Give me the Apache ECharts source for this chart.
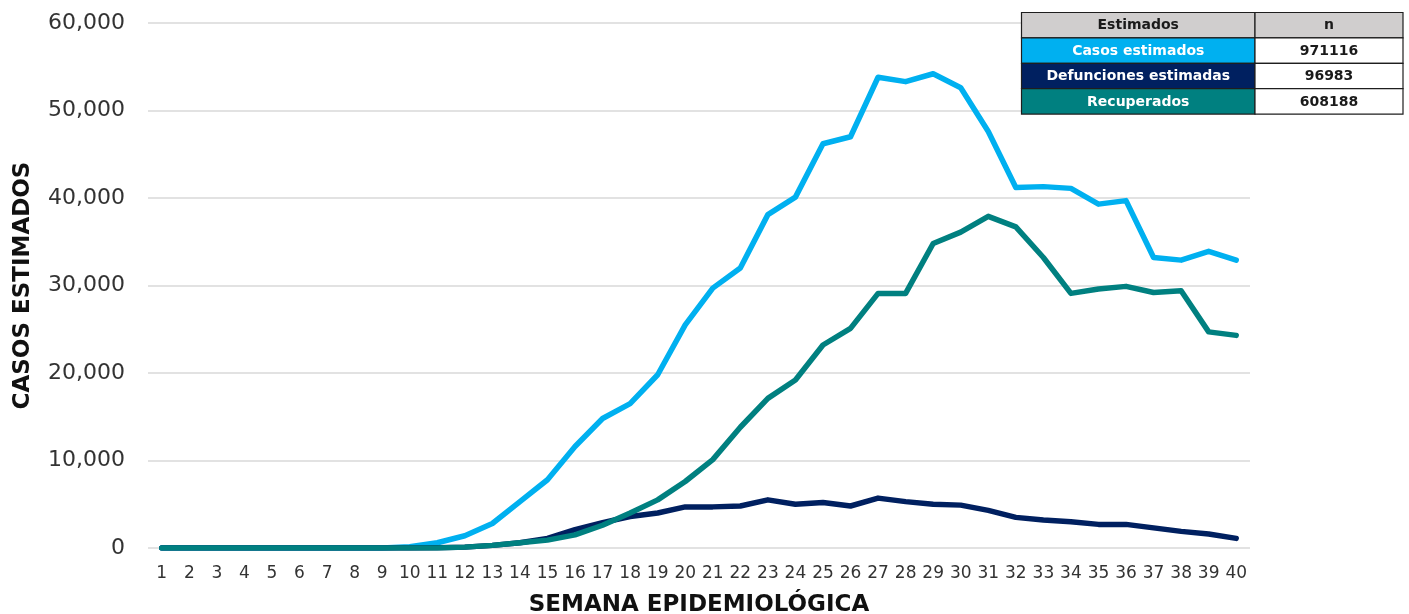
<!DOCTYPE html>
<html>
<head>
<meta charset="utf-8">
<script src="https://cdn.jsdelivr.net/npm/echarts@6/dist/echarts.min.js"></script>
<style>
html,body{margin:0;padding:0;background:#fff;overflow:hidden;}
#chart{width:1409px;height:614px;}
</style>
</head>
<body>
<div id="chart"></div>
<script>
const weeks = ["1","2","3","4","5","6","7","8","9","10","11","12","13","14","15","16","17","18","19","20","21","22","23","24","25","26","27","28","29","30","31","32","33","34","35","36","37","38","39","40"];
const casosEstimados = [0,0,0,0,0,0,0,0,0,150,600,1400,2800,5300,7800,11600,14800,16500,19800,25500,29700,32000,38100,40100,46200,47000,53800,53300,54200,52600,47600,41200,41300,41100,39300,39700,33200,32900,33900,32900];
const defuncionesEstimadas = [0,0,0,0,0,0,0,0,0,0,20,100,300,600,1100,2100,2900,3600,4000,4700,4700,4800,5500,5000,5200,4800,5700,5300,5000,4900,4300,3500,3200,3000,2700,2700,2300,1900,1600,1100];
const recuperados = [0,0,0,0,0,0,0,0,0,0,0,100,300,600,900,1500,2600,4000,5500,7600,10100,13800,17100,19200,23200,25100,29100,29100,34800,36100,37900,36700,33200,29100,29600,29900,29200,29400,24700,24300];
const yTicks = [0,10000,20000,30000,40000,50000,60000];
const tableHeader = ["Estimados","n"];
const tableLabels = ["Casos estimados","Defunciones estimadas","Recuperados"];
const tableValues = ["971116","96983","608188"];

const FONT = "'DejaVu Sans', 'Noto Sans', sans-serif";
const colors = ["#00b0f0","#002060","#008080"];

const chart = echarts.init(document.getElementById('chart'));

// table drawn as graphic elements
const tX = 1021.5, tY = 12.5, c1 = 233.5, c2 = 148, rh = 25.4;
const g = [];
const rowsFill = ["#d0cece"].concat(colors);
const allLabels = [tableHeader[0]].concat(tableLabels);
const allValues = [tableHeader[1]].concat(tableValues);
for (let i = 0; i < 4; i++) {
  const y = tY + i * rh;
  g.push({type:'rect', shape:{x:tX, y:y, width:c1, height:rh}, style:{fill:rowsFill[i], stroke:'#1e1e1e', lineWidth:1.2}, z:10});
  g.push({type:'rect', shape:{x:tX + c1, y:y, width:c2, height:rh}, style:{fill:i===0?'#d0cece':'#ffffff', stroke:'#1e1e1e', lineWidth:1.2}, z:10});
  g.push({type:'text', x:tX + c1/2, y:y + rh/2 + 0.5, style:{text:allLabels[i], fill:i===0?'#1a1a1a':'#ffffff', font:"bold 14px " + FONT, textAlign:'center', textVerticalAlign:'middle'}, z:11});
  g.push({type:'text', x:tX + c1 + c2/2, y:y + rh/2 + 0.5, style:{text:allValues[i], fill:'#1a1a1a', font:"bold 14px " + FONT, textAlign:'center', textVerticalAlign:'middle'}, z:11});
}

const option = {
  animation:false,
  backgroundColor:'#ffffff',
  grid:{left:148, right:159, top:23, bottom:66, containLabel:false, outerBoundsMode:'none'},
  xAxis:{
    type:'category', data:weeks, boundaryGap:true,
    axisLine:{show:false}, axisTick:{show:false},
    axisLabel:{color:'#333', fontFamily:FONT, fontSize:17, margin:17, interval:0},
    name:'SEMANA EPIDEMIOLÓGICA', nameLocation:'middle', nameGap:46,
    nameTextStyle:{color:'#111', fontFamily:FONT, fontSize:23, fontWeight:'bold'}
  },
  yAxis:{
    type:'value', min:yTicks[0], max:yTicks[yTicks.length-1], interval:yTicks[1]-yTicks[0],
    axisLine:{show:false}, axisTick:{show:false},
    splitLine:{lineStyle:{color:'#d9d9d9', width:1.5}},
    axisLabel:{color:'#333', fontFamily:FONT, fontSize:22, margin:23,
      formatter:v => v.toLocaleString('en-US')},
    name:'CASOS ESTIMADOS', nameLocation:'middle', nameGap:113, nameRotate:90,
    nameTextStyle:{color:'#111', fontFamily:FONT, fontSize:23, fontWeight:'bold'}
  },
  series:[
    {name:'Casos estimados', type:'line', data:casosEstimados, showSymbol:false, symbol:'none', lineStyle:{color:colors[0], width:5.5, cap:'round', join:'round'}, itemStyle:{color:colors[0]}, z:2},
    {name:'Defunciones estimadas', type:'line', data:defuncionesEstimadas, showSymbol:false, symbol:'none', lineStyle:{color:colors[1], width:5.5, cap:'round', join:'round'}, itemStyle:{color:colors[1]}, z:3},
    {name:'Recuperados', type:'line', data:recuperados, showSymbol:false, symbol:'none', lineStyle:{color:colors[2], width:5.5, cap:'round', join:'round'}, itemStyle:{color:colors[2]}, z:4}
  ],
  graphic:g
};
chart.setOption(option);
</script>
</body>
</html>
